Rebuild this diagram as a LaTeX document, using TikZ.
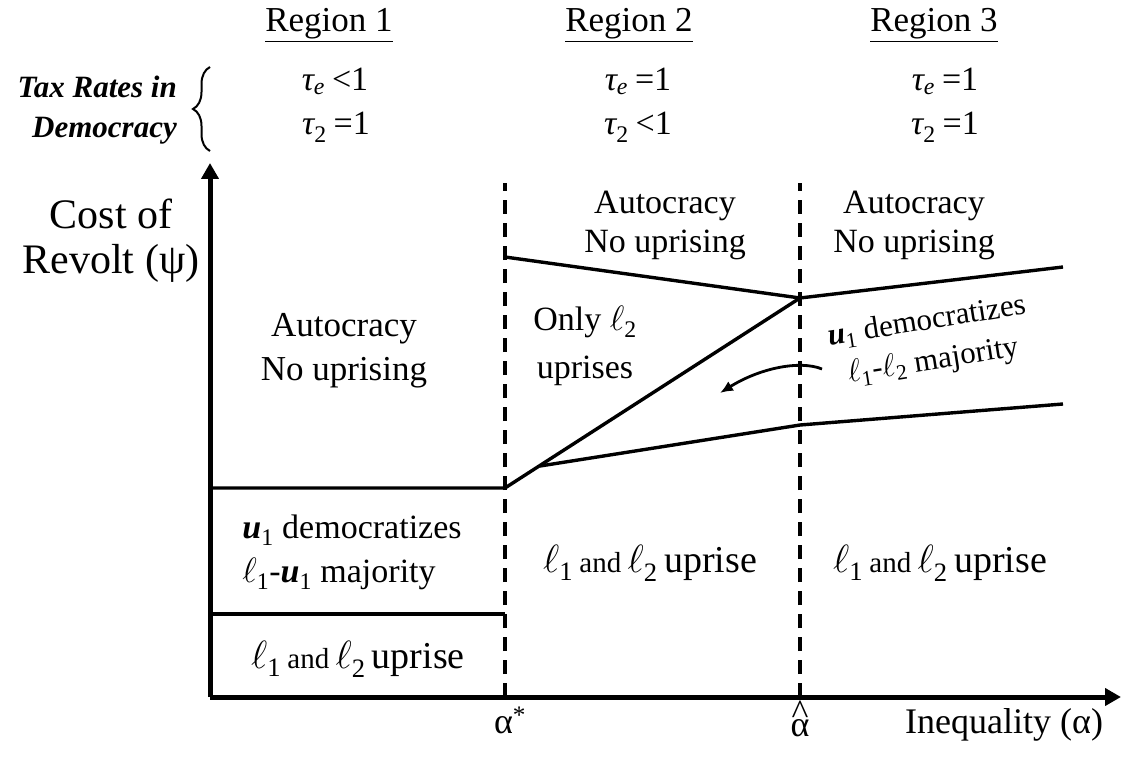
\documentclass[tikz,border=0pt]{standalone}
\usepackage{fontspec}
\setmainfont{Liberation Serif}
\usetikzlibrary{arrows.meta, positioning, calc, decorations.pathreplacing}

\newcommand{\pxsize}[2]{\fontsize{#1}{#2}\selectfont}
\newcommand{\lsub}[1]{\resizebox{!}{0.72em}{$\ell$}\textsubscript{#1}}
\newcommand{\uone}{{\bfseries\itshape u}\textsubscript{1}}
\newcommand{\tauof}[1]{{\itshape τ}\textsubscript{#1}}
\newcommand{\ahat}{\makebox[0pt][l]{\hspace{0.03em}\raisebox{0.31em}{\textasciicircum}}α}

\begin{document}
\begin{tikzpicture}[
  x=1pt, y=-1pt,
  reghead/.style={font=\pxsize{35}{40}, anchor=base, inner sep=0pt},
  rate/.style={font=\pxsize{34}{38}, anchor=base, inner sep=0pt},
  taxlab/.style={font=\pxsize{31}{40}\bfseries\itshape, align=right, anchor=east, inner sep=0pt},
  axlab/.style={font=\pxsize{36}{40}, anchor=base, inner sep=0pt},
  zone/.style={font=\pxsize{35}{44}, align=center, inner sep=0pt},
  uplab/.style={font=\pxsize{38}{42}, anchor=base, inner sep=0pt},
  bound/.style={line width=3.4pt},
  divider/.style={line width=3.2pt, dash pattern=on 14pt off 9pt},
  axis/.style={line width=5pt, -{Triangle[length=16pt,width=17pt]}},
  bendarr/.style={line width=2.8pt, -{Latex[length=13pt,width=11pt]}}
]
\useasboundingbox (0,0) rectangle (1123,759);

%% ═══ TAX RATES ═══
\node[reghead] (reg1) at (329,32) {\underline{Region 1}};
\node[reghead] (reg2) at (629,32) {\underline{Region 2}};
\node[reghead] (reg3) at (934,32) {\underline{Region 3}};

\node[taxlab] (tax) at (177,110) {Tax Rates in\\Democracy};
\coordinate (braceB) at (210,151);
\coordinate (braceT) at (210,67);
\draw[line width=2pt, decorate, decoration={brace, amplitude=17pt}] (braceB) -- (braceT);

\node[rate] (te1) at (335,91) {\tauof{\itshape e}\hspace{7pt}<1};
\node[rate] (tt1) at (336,135) {\tauof{2}\hspace{7pt}=1};
\node[rate] (te2) at (638,91) {\tauof{\itshape e}\hspace{7pt}=1};
\node[rate] (tt2) at (638,135) {\tauof{2}\hspace{7pt}<1};
\node[rate] (te3) at (945,91) {\tauof{\itshape e}\hspace{7pt}=1};
\node[rate] (tt3) at (945,135) {\tauof{2}\hspace{7pt}=1};

%% ═══ AXES ═══
\coordinate (O) at (210,697);
\coordinate (ytip) at (210,163);
\coordinate (xtip) at (1121,697);
\draw[axis] (O) -- (ytip);
\draw[axis] (O) -- (xtip);

\node[font=\pxsize{42}{45}, align=center, inner sep=0pt] (ylab) at (111,241)
  {Cost of\\Revolt (ψ)};
\node[axlab] (astarlab) at (510,733) {α\textsuperscript{*}};
\node[axlab] (ahatlab) at (800,736) {\ahat};
\node[axlab, anchor=base west] (xlab) at (905,733) {Inequality (α)};

%% ═══ THRESHOLDS ═══
\coordinate (astar) at (505,697);
\coordinate (astarT) at (505,183);
\coordinate (ahat) at (800,697);
\coordinate (ahatT) at (800,183);
\draw[divider] (astar) -- (astarT);
\draw[divider] (ahat) -- (ahatT);

%% ═══ BOUNDARIES ═══
\coordinate (boxT) at (210,488);
\coordinate (foot) at (505,488);
\coordinate (kink) at (800,298);
\coordinate (topL) at (505,257);
\coordinate (topR) at (1063,267);
\coordinate (fork) at (540,466);
\coordinate (low) at (800,425);
\coordinate (lowR) at (1063,404);
\coordinate (boxB) at (210,614);
\coordinate (boxBR) at (505,614);

\draw[bound] (boxT) -- (foot) -- (kink) -- (topR);
\draw[bound] (topL) -- (kink);
\draw[bound] (fork) -- (low) -- (lowR);
\draw[bound] (boxB) -- (boxBR);

%% ═══ OUTCOMES ═══
\node[zone] (auto1) at (344,351) {Autocracy\\No uprising};
\node[zone, font=\pxsize{34}{39}] (auto2) at (665,225) {Autocracy\\No uprising};
\node[zone, font=\pxsize{34}{39}] (auto3) at (914,225) {Autocracy\\No uprising};
\node[zone, font=\pxsize{34}{48}] (only2) at (585,346) {Only \lsub{2}\\uprises};
\node[zone, font=\pxsize{31}{40}, rotate=9] (maj3) at (930,342)
  {\uone{} democratizes\\\lsub{1}-\lsub{2} majority};
\node[zone, align=left, font=\pxsize{34}{44}] (maj1) at (352,552)
  {\uone{} democratizes\\\lsub{1}-\uone{} majority};

\node[uplab] (up1) at (358,668) {\lsub{1}\,{\pxsize{29}{32}and}\,\lsub{2}\,uprise};
\node[uplab] (up2) at (650,572) {\lsub{1}\,{\pxsize{29}{32}and}\,\lsub{2}\,uprise};
\node[uplab] (up3) at (940,572) {\lsub{1}\,{\pxsize{29}{32}and}\,\lsub{2}\,uprise};

\coordinate (bendS) at (822,369);
\coordinate (bendE) at (720,393);
\draw[bendarr] (bendS) .. controls (800,360) and (760,368) .. (bendE);

\end{tikzpicture}
\end{document}
